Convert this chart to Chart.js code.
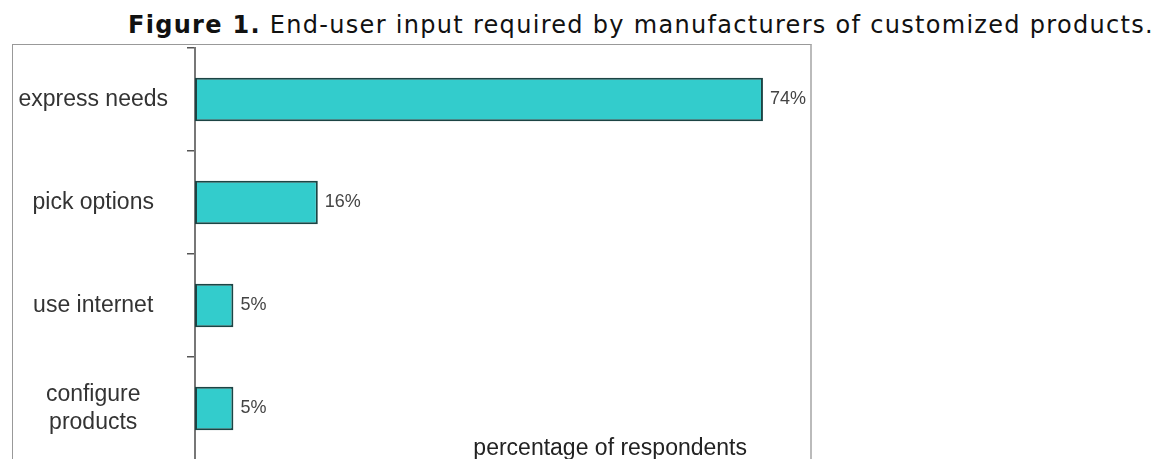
<!DOCTYPE html>
<html>
<head>
<meta charset="utf-8">
<script src="https://cdn.jsdelivr.net/npm/chart.js@4"></script>
<style>
  html, body { margin: 0; padding: 0; background: #fff; overflow: hidden; width: 1163px; height: 459px; }
  #title {
    position: absolute; left: 128px; top: 11px;
    font-family: "DejaVu Sans", Verdana, sans-serif; font-size: 24px; letter-spacing: 1.3px; color: #111;
    white-space: nowrap; line-height: 28px;
  }
  #box {
    position: absolute; left: 12px; top: 44px; width: 797px; height: 460px;
    border-left: 1px solid #999; border-top: 1px solid #999; border-right: 2px solid #bbb;
  }
  #wrap { position: absolute; left: 0; top: 0; width: 797px; height: 415px; }
</style>
</head>
<body>
<div id="title"><b>Figure 1.</b> End-user input required by manufacturers of customized products.</div>
<div id="box"><div id="wrap"><canvas id="mycanvas"></canvas></div></div>
<script>
var labels = ["express needs", "pick options", "use internet", ["configure", "products"]];
var percent = [74, 16, 5, 5];
var axisMax = 80;
var axisTitle = "percentage of respondents";

// value text just past the end of each bar
var valueLabels = {
  id: "valueLabels",
  afterDatasetsDraw: function(chart) {
    var ctx = chart.ctx;
    var meta = chart.getDatasetMeta(0);
    ctx.save();
    ctx.font = "18px 'Liberation Sans', Arial, sans-serif";
    ctx.fillStyle = "#444";
    ctx.textAlign = "left";
    ctx.textBaseline = "middle";
    meta.data.forEach(function(bar, i) {
      ctx.fillText(percent[i] + "%", bar.x + 7, bar.y);
    });
    ctx.restore();
  }
};

// axis caption sits inside the plot, lower right
var axisCaption = {
  id: "axisCaption",
  afterDraw: function(chart) {
    var ctx = chart.ctx;
    var area = chart.chartArea;
    ctx.save();
    ctx.font = "23px 'Liberation Sans', Arial, sans-serif";
    ctx.fillStyle = "#222";
    ctx.textAlign = "right";
    ctx.textBaseline = "alphabetic";
    ctx.fillText(axisTitle, area.right - 62, area.bottom - 5);
    ctx.restore();
  }
};

var ctx = document.getElementById("mycanvas");

var chart = new Chart(ctx, {
  type: "bar",
  data: {
    labels: labels,
    datasets: [{
      data: percent,
      backgroundColor: "#33CCCC",
      borderColor: "#1c4444",
      borderWidth: 2,
      borderSkipped: false,
      categoryPercentage: 1,
      barPercentage: 0.42
    }]
  },
  options: {
    indexAxis: "y",
    responsive: true,
    maintainAspectRatio: false,
    animation: false,
    layout: { padding: { top: 3, right: 1, left: 0, bottom: 0 } },
    plugins: {
      legend: { display: false },
      tooltip: { enabled: false }
    },
    scales: {
      x: {
        display: false,
        min: 0,
        max: axisMax
      },
      y: {
        afterFit: function(scale) {
          // fixed label column, no extra room above/below the bands
          scale.width = 182;
          scale.paddingTop = 0;
          scale.paddingBottom = 0;
        },
        grid: {
          offset: true,
          drawOnChartArea: false,
          color: "#555",
          lineWidth: 1.5,
          tickLength: 8
        },
        border: { display: true, color: "#777", width: 2 },
        ticks: {
          crossAlign: "center",
          padding: 19,
          color: "#333",
          font: { family: "'Liberation Sans', Arial, sans-serif", size: 23, lineHeight: 1.2 }
        }
      }
    }
  },
  plugins: [valueLabels, axisCaption]
});
</script>
</body>
</html>
